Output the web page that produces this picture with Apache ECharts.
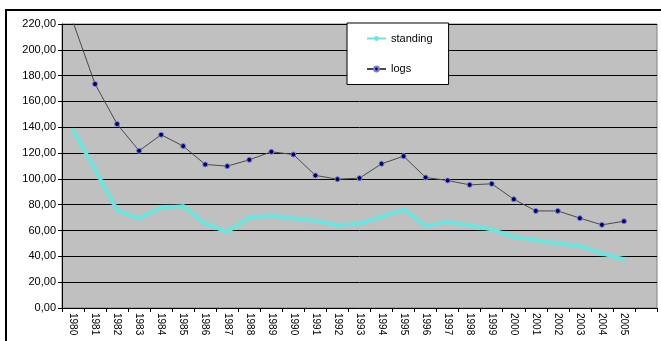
<!DOCTYPE html>
<html>
<head>
<meta charset="utf-8">
<script src="https://cdn.jsdelivr.net/npm/echarts@6/dist/echarts.min.js"></script>
<style>
  html, body { margin: 0; padding: 0; background: #ffffff; }
  #chart { width: 661px; height: 341px; }
</style>
</head>
<body>
<div id="chart"></div>
<script>
// Years on the category axis (one trailing empty slot, as in the original sheet)
const years = ['1980','1981','1982','1983','1984','1985','1986','1987','1988','1989',
               '1990','1991','1992','1993','1994','1995','1996','1997','1998','1999',
               '2000','2001','2002','2003','2004','2005',''];

// Standing volume
const standing = [137.8, 107.3, 75.8, 69.3, 77.9, 78.9, 65.4, 59.0, 70.1, 71.4,
                  69.3, 67.5, 64.1, 65.4, 70.6, 76.3, 63.4, 66.7, 64.1, 60.8,
                  55.1, 52.5, 49.9, 48.1, 42.2, 37.8];

// Logs
const logs = [221.5, 173.5, 142.5, 121.8, 134.2, 125.4, 111.2, 109.9, 114.8, 121.0,
              118.9, 102.7, 99.8, 100.6, 111.7, 117.6, 101.1, 98.8, 95.4, 96.2,
              84.3, 75.2, 75.2, 69.6, 64.4, 67.2];

const yMax = 220;
const yStep = 20;

const chart = echarts.init(document.getElementById('chart'), null, { renderer: 'canvas' });

const fontFamily = '"Liberation Sans", Arial, sans-serif';

chart.setOption({
  animation: false,
  backgroundColor: '#ffffff',
  textStyle: { fontFamily: fontFamily },
  grid: {
    left: 62, top: 24, right: 4, bottom: 33,
    show: true,
    backgroundColor: '#c0c0c0',
    borderColor: '#808080',
    borderWidth: 1
  },
  legend: {
    orient: 'vertical',
    left: 347, top: 23,
    padding: [10, 16, 10, 19],
    itemGap: 19.5,
    itemWidth: 19,
    itemHeight: 6,
    backgroundColor: '#ffffff',
    borderColor: '#000000',
    borderWidth: 1,
    textStyle: { fontSize: 11, color: '#000000', fontFamily: fontFamily },
    data: ['standing', 'logs']
  },
  xAxis: {
    type: 'category',
    data: years,
    boundaryGap: true,
    axisLine: { lineStyle: { color: '#000000', width: 1 } },
    axisTick: { show: true, length: 4, interval: 0, lineStyle: { color: '#000000' } },
    axisLabel: {
      interval: 0, rotate: -90, margin: 5,
      fontSize: 10, color: '#000000', fontFamily: fontFamily
    },
    splitLine: { show: false }
  },
  yAxis: {
    type: 'value',
    min: 0, max: yMax, interval: yStep,
    axisLine: { show: true, lineStyle: { color: '#000000', width: 1 } },
    axisTick: { show: true, length: 4, lineStyle: { color: '#000000' } },
    axisLabel: {
      margin: 6, fontSize: 11, color: '#000000', fontFamily: fontFamily,
      formatter: v => v.toFixed(2).replace('.', ',')
    },
    splitLine: { show: true, lineStyle: { color: '#000000', width: 1 } }
  },
  series: [
    {
      name: 'standing',
      type: 'line',
      data: standing,
      symbol: 'circle',
      symbolSize: 4,
      showSymbol: true,
      itemStyle: { color: '#74e2dc' },
      lineStyle: { color: '#74e2dc', width: 3.5, shadowColor: 'rgba(116,226,220,0.7)', shadowBlur: 3 },
      z: 2
    },
    {
      name: 'logs',
      type: 'line',
      data: logs,
      symbol: 'circle',
      symbolSize: 5,
      showSymbol: true,
      clip: true,
      itemStyle: { color: '#000066', borderColor: '#8080d0', borderWidth: 1 },
      lineStyle: { color: '#4a4a4a', width: 1 },
      z: 3
    }
  ],
  graphic: [
    // Outer frame: left and top rules
    { type: 'rect', shape: { x: 5, y: 9, width: 2, height: 340 }, style: { fill: '#000000' }, silent: true },
    { type: 'rect', shape: { x: 5, y: 9, width: 660, height: 2 }, style: { fill: '#000000' }, silent: true }
  ]
});
</script>
</body>
</html>
